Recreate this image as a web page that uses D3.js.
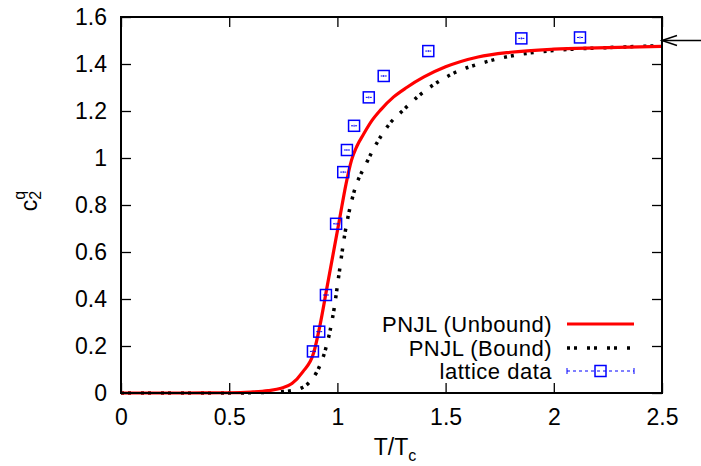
<!DOCTYPE html>
<html>
<head>
<meta charset="utf-8">
<script src="https://cdn.jsdelivr.net/npm/d3@7"></script>
<style>
  body { margin: 0; background: #fff; }
  text { font-family: "Liberation Sans", Arial, sans-serif; fill: #000; }
</style>
</head>
<body>
<div class="chart"></div>
<script>
var svgWidth = 701;
var svgHeight = 466;

var margin = { top: 17, right: 39, bottom: 73, left: 121 };
var width = svgWidth - margin.left - margin.right;
var height = svgHeight - margin.top - margin.bottom;

// PNJL unbound (red solid)
var unboundT  = [0, 0.3, 0.5, 0.6, 0.68, 0.74, 0.79, 0.84, 0.89, 0.92, 0.95, 0.98, 1.01, 1.04, 1.065, 1.09, 1.12, 1.16, 1.2, 1.26, 1.32, 1.4, 1.5, 1.65, 1.8, 2.0, 2.2, 2.5];
var unboundC2 = [0, 0, 0.001, 0.004, 0.01, 0.02, 0.04, 0.09, 0.17, 0.29, 0.44, 0.59, 0.74, 0.89, 0.99, 1.05, 1.10, 1.16, 1.205, 1.26, 1.30, 1.345, 1.388, 1.43, 1.450, 1.463, 1.469, 1.475];

// PNJL bound (black dotted)
var boundT  = [0, 0.3, 0.5, 0.65, 0.75, 0.8, 0.835, 0.87, 0.905, 0.94, 0.965, 0.985, 1.005, 1.035, 1.075, 1.135, 1.18, 1.245, 1.3, 1.37, 1.52, 1.69, 1.86, 2.04, 2.28, 2.5];
var boundC2 = [0, 0, 0, 0.002, 0.006, 0.012, 0.022, 0.045, 0.09, 0.17, 0.26, 0.36, 0.49, 0.68, 0.85, 0.98, 1.06, 1.15, 1.2, 1.26, 1.353, 1.41, 1.443, 1.46, 1.471, 1.478];

// lattice data
var latticeT  = [0.887, 0.916, 0.947, 0.994, 1.027, 1.044, 1.077, 1.145, 1.214, 1.420, 1.850, 2.121];
var latticeC2 = [0.177, 0.261, 0.417, 0.720, 0.940, 1.034, 1.137, 1.258, 1.349, 1.455, 1.509, 1.513];

var xTicks = [0, 0.5, 1, 1.5, 2, 2.5];
var yTicks = [0, 0.2, 0.4, 0.6, 0.8, 1, 1.2, 1.4, 1.6];
var idealLimit = 1.5;

var fontSize = "23px";
var legendFont = "22px";

var svg = d3.select(".chart")
  .append("svg")
  .attr("width", svgWidth)
  .attr("height", svgHeight);

var chartGroup = svg.append("g")
  .attr("transform", `translate(${margin.left}, ${margin.top})`);

var xScale = d3.scaleLinear().domain([0, 2.5]).range([0, width]);
var yScale = d3.scaleLinear().domain([0, 1.6]).range([height, 0]);

// axes with inward ticks, mirrored on top/right
var bottomAxis = d3.axisBottom(xScale).tickValues(xTicks).tickSizeInner(-10).tickSizeOuter(0)
  .tickPadding(16).tickFormat(d3.format("~g"));
var topAxis = d3.axisTop(xScale).tickValues(xTicks).tickSizeInner(-10).tickSizeOuter(0).tickFormat("");
var leftAxis = d3.axisLeft(yScale).tickValues(yTicks).tickSizeInner(-10).tickSizeOuter(0)
  .tickPadding(14).tickFormat(d3.format("~g"));
var rightAxis = d3.axisRight(yScale).tickValues(yTicks).tickSizeInner(-10).tickSizeOuter(0).tickFormat("");

function styleAxis(g) {
  g.select(".domain").remove();
  g.selectAll(".tick line").attr("stroke", "#000").attr("stroke-width", 1.3);
  g.selectAll(".tick text").attr("font-size", fontSize).attr("fill", "#000")
    .attr("font-family", "Liberation Sans, Arial, sans-serif");
}

chartGroup.append("g").attr("transform", `translate(0, ${height})`).call(bottomAxis).call(styleAxis);
chartGroup.append("g").call(topAxis).call(styleAxis);
chartGroup.append("g").call(leftAxis).call(styleAxis);
chartGroup.append("g").attr("transform", `translate(${width}, 0)`).call(rightAxis).call(styleAxis);

// curves
var line = d3.line()
  .x(d => xScale(d[0]))
  .y(d => yScale(d[1]))
  .curve(d3.curveMonotoneX);

chartGroup.append("path")
  .datum(boundT.map((t, i) => [t, boundC2[i]]))
  .attr("fill", "none")
  .attr("stroke", "#000")
  .attr("stroke-width", 3.5)
  .attr("stroke-dasharray", "3,4,3,10")
  .attr("d", line);

chartGroup.append("path")
  .datum(unboundT.map((t, i) => [t, unboundC2[i]]))
  .attr("fill", "none")
  .attr("stroke", "#ff0000")
  .attr("stroke-width", 3.2)
  .attr("d", line);

// legend sample for lattice: square with dashed bar and end ticks
function drawLattice(g, cx, cy, half) {
  g.append("line")
    .attr("x1", cx - half).attr("x2", cx + half)
    .attr("y1", cy).attr("y2", cy)
    .attr("stroke", "#0000ff").attr("stroke-width", 1)
    .attr("stroke-dasharray", "3,3");
  g.append("line")
    .attr("x1", cx - half).attr("x2", cx - half)
    .attr("y1", cy - 3).attr("y2", cy + 3)
    .attr("stroke", "#0000ff").attr("stroke-width", 1);
  g.append("line")
    .attr("x1", cx + half).attr("x2", cx + half)
    .attr("y1", cy - 3).attr("y2", cy + 3)
    .attr("stroke", "#0000ff").attr("stroke-width", 1);
  g.append("rect")
    .attr("x", cx - 5.5).attr("y", cy - 5.5)
    .attr("width", 11).attr("height", 11)
    .attr("fill", "none")
    .attr("stroke", "#0000ff")
    .attr("stroke-width", 1.5);
}

var latticeGroup = chartGroup.append("g");
latticeT.forEach(function (t, i) {
  var g = latticeGroup.append("g");
  g.append("line")
    .attr("x1", xScale(t) - 3).attr("x2", xScale(t) + 3)
    .attr("y1", yScale(latticeC2[i])).attr("y2", yScale(latticeC2[i]))
    .attr("stroke", "#0000ff").attr("stroke-width", 1)
    .attr("stroke-dasharray", "2,2");
  g.append("line")
    .attr("x1", xScale(t)).attr("x2", xScale(t))
    .attr("y1", yScale(latticeC2[i]) - 1).attr("y2", yScale(latticeC2[i]) + 1)
    .attr("stroke", "#0000ff").attr("stroke-width", 1);
  g.append("rect")
    .attr("x", xScale(t) - 5.5).attr("y", yScale(latticeC2[i]) - 5.5)
    .attr("width", 11).attr("height", 11)
    .attr("fill", "none")
    .attr("stroke", "#0000ff")
    .attr("stroke-width", 1.5);
});

// frame
chartGroup.append("rect")
  .attr("width", width).attr("height", height)
  .attr("fill", "none")
  .attr("stroke", "#000")
  .attr("stroke-width", 2);

// arrow marking the ideal gas limit
var arrowY = yScale(idealLimit);
var arrow = chartGroup.append("g").attr("stroke", "#000").attr("stroke-width", 1.5).attr("fill", "none");
arrow.append("line").attr("x1", width).attr("x2", width + 40).attr("y1", arrowY).attr("y2", arrowY);
arrow.append("path").attr("d", `M${width + 15},${arrowY - 5} L${width},${arrowY} L${width + 15},${arrowY + 5}`);

// legend
var legend = chartGroup.append("g");
var legendTextX = 431;
var sampleX1 = 446, sampleX2 = 513;
var rows = [307, 331, 354];

function legendText(y, label) {
  legend.append("text").attr("x", legendTextX).attr("y", y + 8)
    .attr("text-anchor", "end").attr("font-size", legendFont)
    .attr("letter-spacing", "0.5px").text(label);
}

legendText(rows[0], "PNJL (Unbound)");
legend.append("line").attr("x1", sampleX1).attr("x2", sampleX2).attr("y1", rows[0]).attr("y2", rows[0])
  .attr("stroke", "#ff0000").attr("stroke-width", 3.2);

legendText(rows[1], "PNJL (Bound)");
legend.append("line").attr("x1", sampleX1).attr("x2", sampleX2).attr("y1", rows[1]).attr("y2", rows[1])
  .attr("stroke", "#000").attr("stroke-width", 3.5).attr("stroke-dasharray", "3,4,3,10");

legendText(rows[2], "lattice data");
drawLattice(legend, (sampleX1 + sampleX2) / 2, rows[2], (sampleX2 - sampleX1) / 2);

// axis labels
var xLabel = svg.append("text")
  .attr("x", 395).attr("y", 455)
  .attr("text-anchor", "middle")
  .attr("font-size", fontSize);
xLabel.append("tspan").text("T/T");
xLabel.append("tspan").attr("dy", 6).attr("font-size", "16px").text("c");

var yLabel = svg.append("text")
  .attr("transform", "translate(37, 201) rotate(-90)")
  .attr("text-anchor", "middle")
  .attr("font-size", fontSize);
yLabel.append("tspan").text("c");
yLabel.append("tspan").attr("dy", 4).attr("font-size", "16px").text("2");
yLabel.append("tspan").attr("dx", -9).attr("dy", -16).attr("font-size", "16px").text("q");
</script>
</body>
</html>
